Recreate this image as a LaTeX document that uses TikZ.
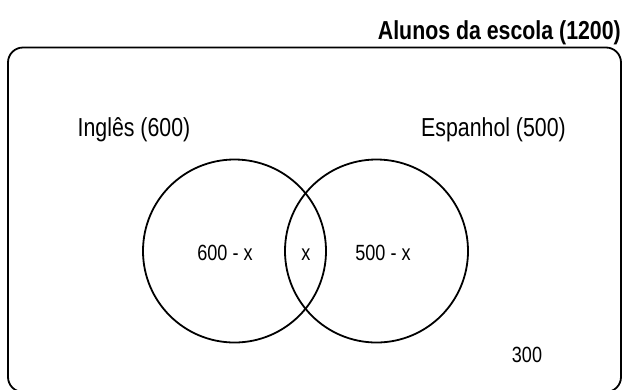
\documentclass[tikz,border=0pt]{standalone}
\usepackage{fontspec}
\setmainfont{Liberation Sans}[FakeStretch=0.82]
\begin{document}
\begin{tikzpicture}[x=1pt,y=-1pt,
  setline/.style={draw=black, line width=1.8pt, inner sep=0pt},
  setcircle/.style={setline, circle, minimum size=183pt},
  biglabel/.style={inner sep=0pt, anchor=base, font=\fontsize{26}{30}\selectfont},
  smalllabel/.style={inner sep=0pt, anchor=base, font=\fontsize{22}{26}\selectfont}]
\useasboundingbox (0,0) rectangle (623,389);
\node[setline, rounded corners=15pt, minimum width=613pt, minimum height=344.5pt] (frame) at (314.5,219.75) {};
\node[biglabel, anchor=base east, font=\fontsize{26}{30}\selectfont\bfseries] (title) at (621,39.5) {Alunos da escola (1200)};
\node[setcircle] (ing) at (234.5,251) {};
\node[setcircle] (esp) at (376.5,251) {};
\node[biglabel] (ingl) at (134,136) {Inglês (600)};
\node[biglabel] (espl) at (493.5,136) {Espanhol (500)};
\node[smalllabel] (onlying) at (225,260.7) {600 - x};
\node[smalllabel] (both) at (306,260.7) {x};
\node[smalllabel] (onlyesp) at (383,260.7) {500 - x};
\node[smalllabel] (none) at (527,362.3) {300};
\end{tikzpicture}
\end{document}
